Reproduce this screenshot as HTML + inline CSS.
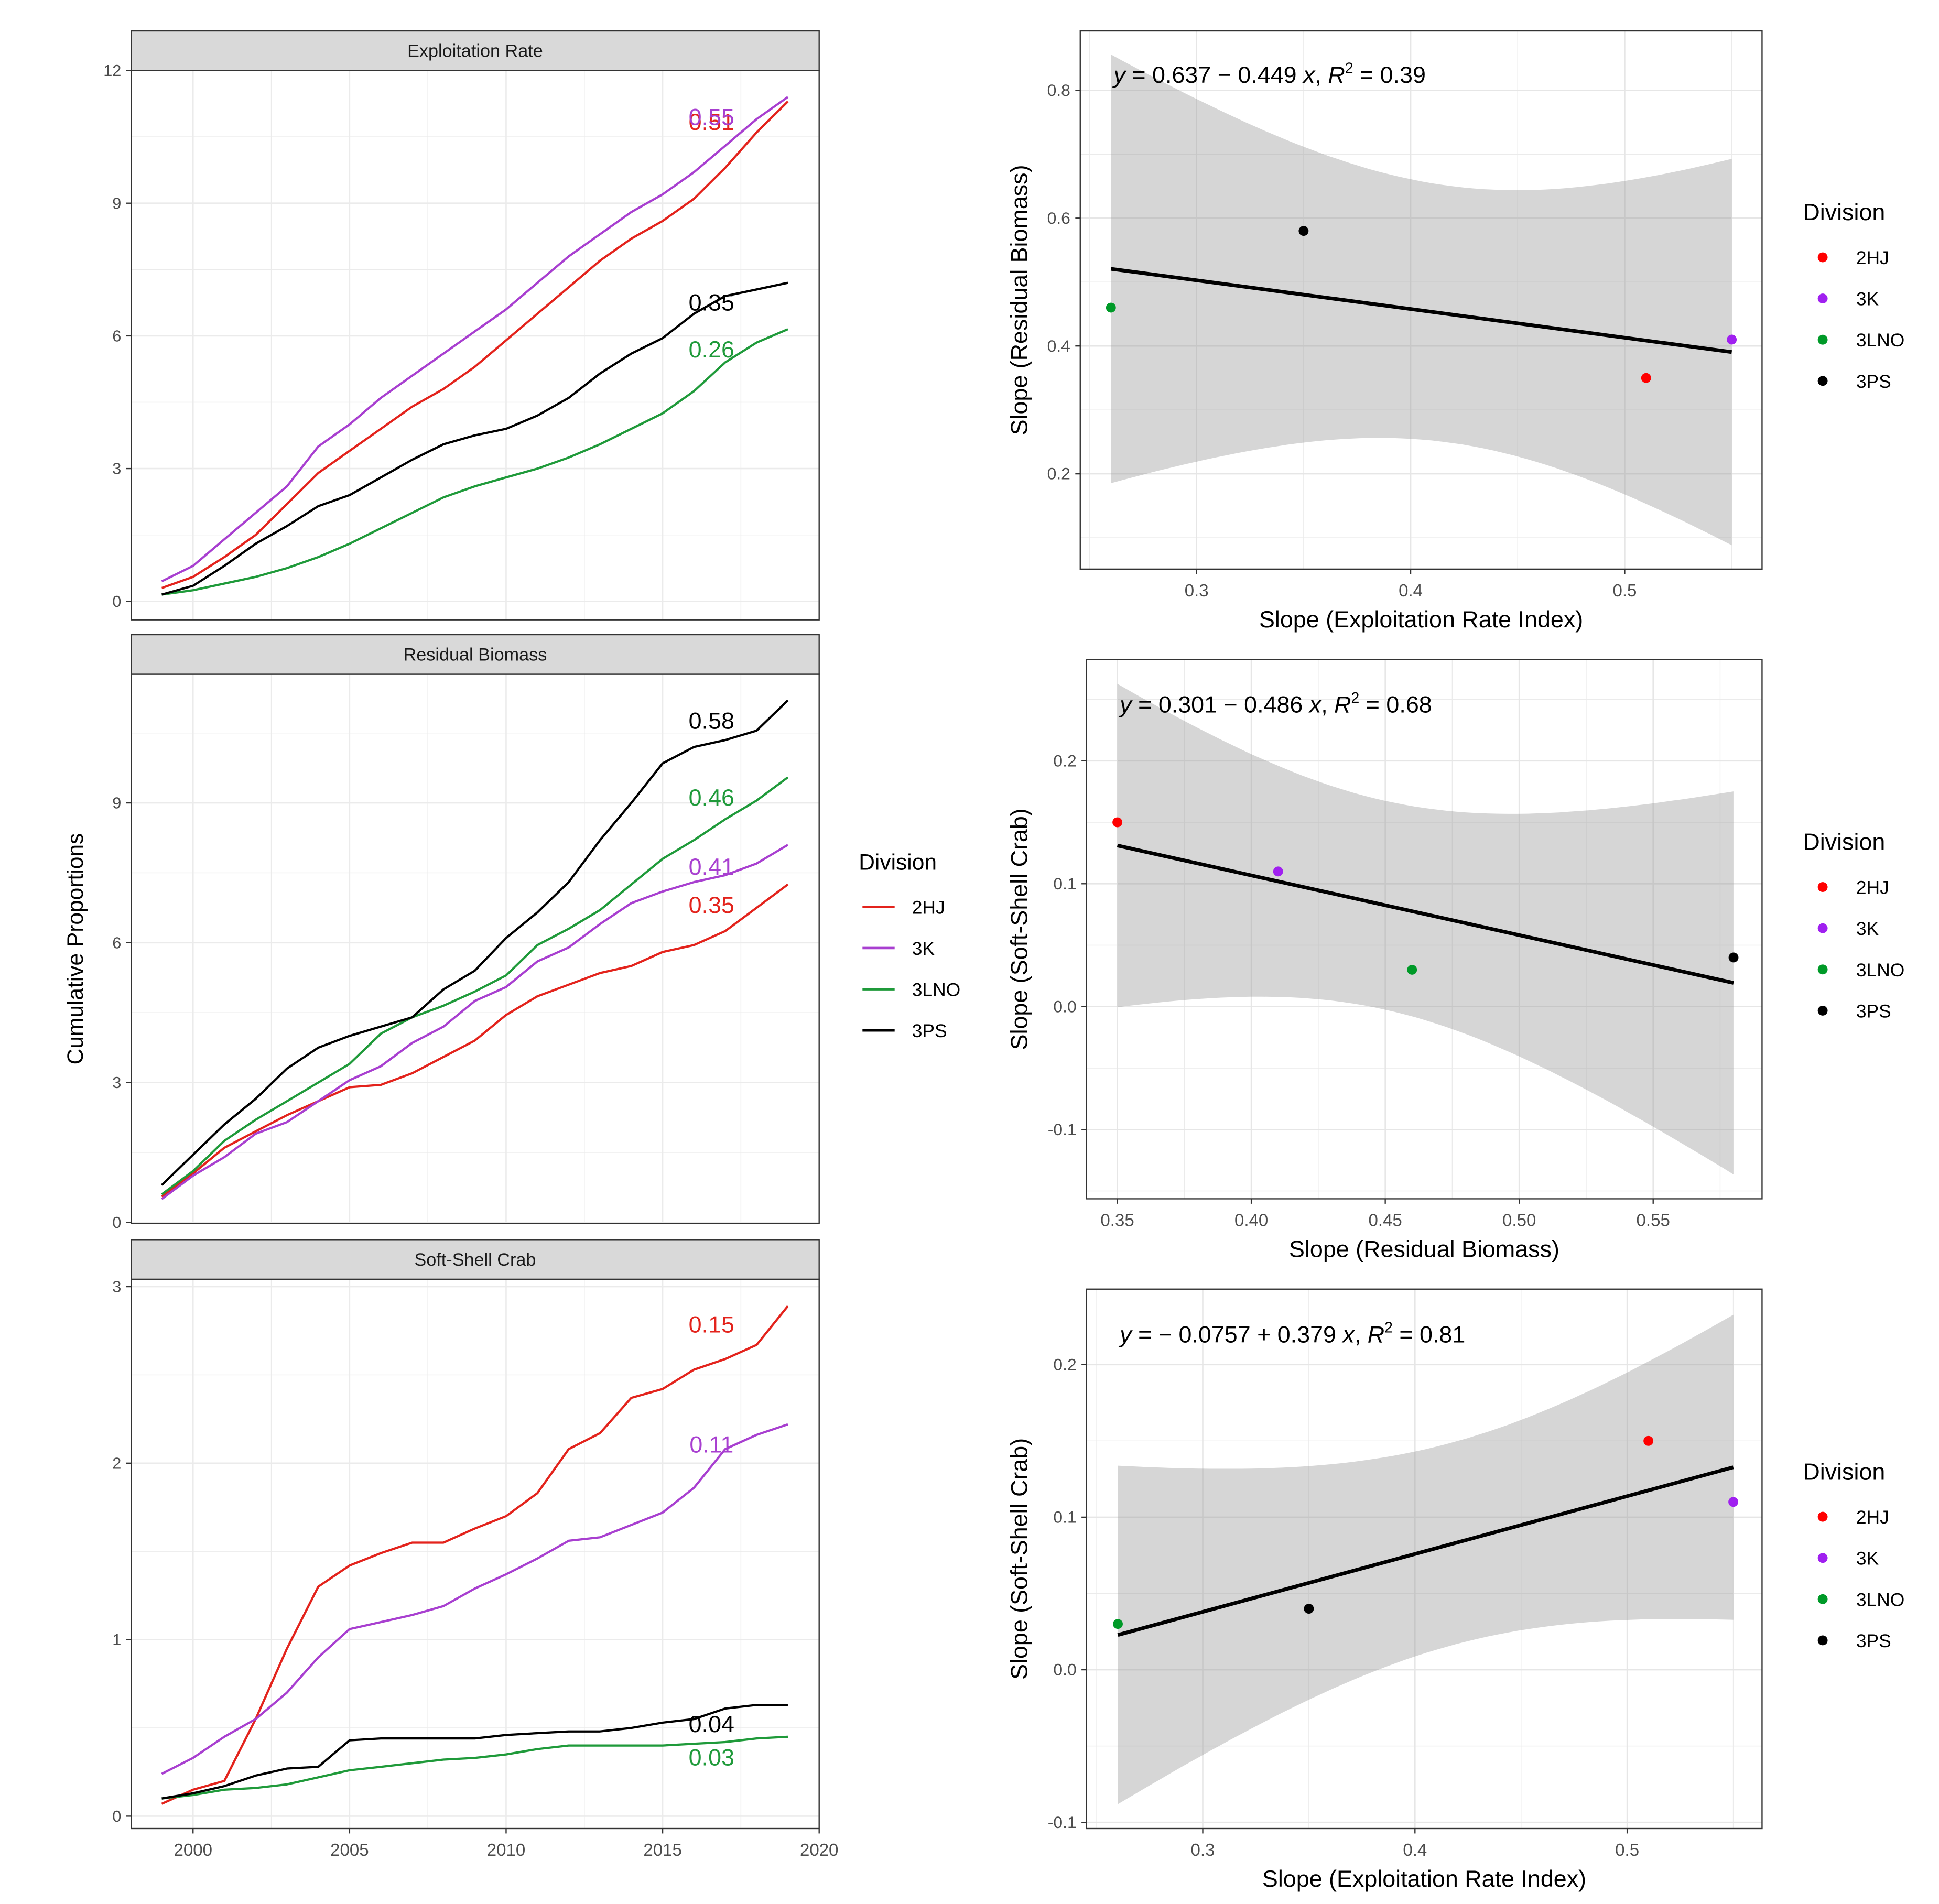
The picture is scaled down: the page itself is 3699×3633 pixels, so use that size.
<!DOCTYPE html>
<html><head><meta charset="utf-8"><style>
html,body{margin:0;padding:0;background:#fff}
svg{display:block}
text{font-family:"Liberation Sans",sans-serif}
</style></head><body>
<svg id="fig" width="3699" height="3633" viewBox="0 0 1567 1539" preserveAspectRatio="none"></svg>
<script>
// ---- data ----
const years = [1999,2000,2001,2002,2003,2004,2005,2006,2007,2008,2009,2010,2011,2012,2013,2014,2015,2016,2017,2018,2019];
const divisions = ["2HJ","3K","3LNO","3PS"];
const expl2HJ = [0.3,0.55,1.0,1.5,2.2,2.9,3.4,3.9,4.4,4.8,5.3,5.9,6.5,7.1,7.7,8.2,8.6,9.1,9.8,10.6,11.3];
const expl3K = [0.45,0.8,1.4,2.0,2.6,3.5,4.0,4.6,5.1,5.6,6.1,6.6,7.2,7.8,8.3,8.8,9.2,9.7,10.3,10.9,11.4];
const expl3LNO = [0.15,0.25,0.4,0.55,0.75,1.0,1.3,1.65,2.0,2.35,2.6,2.8,3.0,3.25,3.55,3.9,4.25,4.75,5.4,5.85,6.15];
const expl3PS = [0.15,0.35,0.8,1.3,1.7,2.15,2.4,2.8,3.2,3.55,3.75,3.9,4.2,4.6,5.15,5.6,5.95,6.5,6.9,7.05,7.2];
const resid2HJ = [0.55,1.05,1.6,1.95,2.3,2.6,2.9,2.95,3.2,3.55,3.9,4.45,4.85,5.1,5.35,5.5,5.8,5.95,6.25,6.75,7.25];
const resid3K = [0.5,1.0,1.4,1.9,2.15,2.6,3.05,3.35,3.85,4.2,4.75,5.05,5.6,5.9,6.4,6.85,7.1,7.3,7.45,7.7,8.1];
const resid3LNO = [0.6,1.1,1.75,2.2,2.6,3.0,3.4,4.05,4.4,4.65,4.95,5.3,5.95,6.3,6.7,7.25,7.8,8.2,8.65,9.05,9.55];
const resid3PS = [0.8,1.45,2.1,2.65,3.3,3.75,4.0,4.2,4.4,5.0,5.4,6.1,6.65,7.3,8.2,9.0,9.85,10.2,10.35,10.55,11.2];
const soft2HJ = [0.07,0.15,0.2,0.55,0.95,1.3,1.42,1.49,1.55,1.55,1.63,1.7,1.83,2.08,2.17,2.37,2.42,2.53,2.59,2.67,2.89];
const soft3K = [0.24,0.33,0.45,0.55,0.7,0.9,1.06,1.1,1.14,1.19,1.29,1.37,1.46,1.56,1.58,1.65,1.72,1.86,2.08,2.16,2.22];
const soft3LNO = [0.1,0.12,0.15,0.16,0.18,0.22,0.26,0.28,0.3,0.32,0.33,0.35,0.38,0.4,0.4,0.4,0.4,0.41,0.42,0.44,0.45];
const soft3PS = [0.1,0.13,0.17,0.23,0.27,0.28,0.43,0.44,0.44,0.44,0.44,0.46,0.47,0.48,0.48,0.5,0.53,0.55,0.61,0.63,0.63];
const explSlopes = ["0.51","0.55","0.26","0.35"];
const residSlopes = ["0.35","0.41","0.46","0.58"];
const softSlopes = ["0.15","0.11","0.03","0.04"];
const yearTicks = [2000,2005,2010,2015,2020];
const explTicks = [0,3,6,9,12];
const residTicks = [0,3,6,9];
const softTicks = [0,1,2,3];
// scatter data (order: 2HJ,3K,3LNO,3PS)
const explIdx = [0.51,0.55,0.26,0.35];
const residIdx = [0.35,0.41,0.46,0.58];
const softIdx = [0.15,0.11,0.03,0.04];
const scAxTicksX = [0.3,0.4,0.5];
const scBxTicksX = [0.35,0.40,0.45,0.50,0.55];
const scAyTicks = [0.2,0.4,0.6,0.8];
const scByTicks = [-0.1,0.0,0.1,0.2];

const lineCols = {"2HJ":"#e3231c","3K":"#a83fd0","3LNO":"#1f9a3a","3PS":"#000"};
const dotCols = {"2HJ":"#ff0000","3K":"#a020f0","3LNO":"#009a28","3PS":"#000"};
const NS="http://www.w3.org/2000/svg";
const svg=document.getElementById('fig');
function mk(tag,attrs,parent,txt){const e=document.createElementNS(NS,tag);for(const k in attrs)e.setAttribute(k,attrs[k]);if(txt!==undefined)e.textContent=txt;(parent||svg).appendChild(e);return e;}
function lin(d0,d1,r0,r1){return v=>r0+(v-d0)*(r1-r0)/(d1-d0);}

// ---- time series panels ----
const X = lin(2000,2020,156,662);
function tsPanel(name,title,top,y0px,unitPx,ticks,series,labels,labelYs,showX){
  const g=mk('g',{});
  
  
  const L=106,R=662,st=top,sb=top+32,pb=top+476;
  const Y=v=>y0px-v*unitPx;
  mk('rect',{x:L,y:sb,width:R-L,height:pb-sb,fill:'#fff'},g);
  for(let yr=1997.5;yr<=2020;yr+=2.5){const x=X(yr);if(x<L||x>R)continue;mk('line',{x1:x,x2:x,y1:sb,y2:pb,stroke:'#ebebeb','stroke-width':Number.isInteger(yr/5)?1.1:0.6},g);}
  const tstep=ticks[1]-ticks[0];
  for(let v=0;Y(v)>=sb-0.5;v+=tstep/2){mk('line',{x1:L,x2:R,y1:Y(v),y2:Y(v),stroke:'#ebebeb','stroke-width':(Math.abs(v/tstep-Math.round(v/tstep))<1e-6)?1.1:0.6},g);}
  ticks.forEach(t=>{const y=Y(t);mk('line',{x1:L-4,x2:L,y1:y,y2:y,stroke:'#333','stroke-width':1},g);
    const tx=mk('text',{x:L-8,y:y+4.5,'font-size':13,'text-anchor':'end',fill:'#4d4d4d'},g,String(t));
    });
  series.forEach((arr,i)=>{const d=arr.map((v,j)=>(j?'L':'M')+X(years[j]).toFixed(1)+','+Y(v).toFixed(1)).join('');
    const p=mk('path',{d:d,fill:'none',stroke:lineCols[divisions[i]],'stroke-width':1.8,'stroke-linejoin':'round'},g);
    });
  labels.forEach((l,i)=>{const t=mk('text',{x:575,y:labelYs[i]+7,'font-size':19,'text-anchor':'middle',fill:lineCols[divisions[i]]},g,l);
    });
  mk('rect',{x:L,y:sb,width:R-L,height:pb-sb,fill:'none',stroke:'#333','stroke-width':1},g);
  mk('rect',{x:L,y:st,width:R-L,height:32,fill:'#d9d9d9',stroke:'#333','stroke-width':1},g);
  const s=mk('text',{x:(L+R)/2,y:st+21,'font-size':14.5,'text-anchor':'middle',fill:'#1a1a1a'},g,title);
  
  if(showX){yearTicks.forEach(yr=>{const x=X(yr);mk('line',{x1:x,x2:x,y1:pb,y2:pb+4,stroke:'#333'},g);
    const t=mk('text',{x:x,y:pb+22,'font-size':14,'text-anchor':'middle',fill:'#4d4d4d'},g,String(yr));
    });}
}
tsPanel('exploitation-rate-panel','Exploitation Rate',25,486,(486-57)/12,explTicks,[expl2HJ,expl3K,expl3LNO,expl3PS],explSlopes,[98,94,282,244],false);
tsPanel('residual-biomass-panel','Residual Biomass',513,988,(988-649)/9,residTicks,[resid2HJ,resid3K,resid3LNO,resid3PS],residSlopes,[731,700,644,582],false);
tsPanel('soft-shell-crab-panel','Soft-Shell Crab',1002,1468,(1468-1040)/3,softTicks,[soft2HJ,soft3K,soft3LNO,soft3PS],softSlopes,[1070,1167,1420,1393],true);
const yt=mk('text',{x:0,y:0,'font-size':18,'text-anchor':'middle',fill:'#000',transform:'translate(67,767) rotate(-90)'},svg,'Cumulative Proportions');


// middle legend
const lg=mk('g',{});


mk('text',{x:694,y:703,'font-size':18,fill:'#000'},lg,'Division');
divisions.forEach((d,i)=>{const y=733+i*33.3;mk('line',{x1:697,x2:723,y1:y,y2:y,stroke:lineCols[d],'stroke-width':2},lg);
  const t=mk('text',{x:737,y:y+5.5,'font-size':15,fill:'#000'},lg,d);
  });

// ---- scatter panels ----
function regress(xs,ys){const n=xs.length,mx=xs.reduce((a,b)=>a+b)/n,my=ys.reduce((a,b)=>a+b)/n;
  let sxx=0,sxy=0,syy=0;xs.forEach((x,i)=>{sxx+=(x-mx)**2;sxy+=(x-mx)*(ys[i]-my);syy+=(ys[i]-my)**2;});
  const b=sxy/sxx,a=my-b*mx;let sse=0;xs.forEach((x,i)=>{sse+=(ys[i]-a-b*x)**2;});
  return {a,b,mx,sxx,s:Math.sqrt(sse/(n-2)),n,r2:sxy*sxy/(sxx*syy)};}
function scPanel(name,L,T,R,B,xs,ys,SX,SY,xt,ytk,xMinor,yMinor,eq,eqY,xTitle,yTitle,legTop){
  const g=mk('g',{});
  
  
  mk('rect',{x:L,y:T,width:R-L,height:B-T,fill:'#fff'},g);
  xMinor.forEach(v=>{const x=SX(v);if(x>L&&x<R)mk('line',{x1:x,x2:x,y1:T,y2:B,stroke:'#ebebeb','stroke-width':0.6},g);});
  yMinor.forEach(v=>{const y=SY(v);if(y>T&&y<B)mk('line',{x1:L,x2:R,y1:y,y2:y,stroke:'#ebebeb','stroke-width':0.6},g);});
  xt.forEach(v=>{const x=SX(v);mk('line',{x1:x,x2:x,y1:T,y2:B,stroke:'#e6e6e6','stroke-width':1.1},g);});
  ytk.forEach(v=>{const y=SY(v);mk('line',{x1:L,x2:R,y1:y,y2:y,stroke:'#e6e6e6','stroke-width':1.1},g);});
  const r=regress(xs,ys);const t=4.303;
  const x0=Math.min(...xs),x1=Math.max(...xs);const N=60;let up=[],lo=[];
  for(let i=0;i<=N;i++){const x=x0+(x1-x0)*i/N;const f=r.a+r.b*x;const se=r.s*Math.sqrt(1/r.n+(x-r.mx)**2/r.sxx);
    up.push(SX(x).toFixed(1)+','+SY(f+t*se).toFixed(1));lo.unshift(SX(x).toFixed(1)+','+SY(f-t*se).toFixed(1));}
  const band=mk('polygon',{points:up.concat(lo).join(' '),fill:'#999','fill-opacity':0.4},g);
  
  const fl=mk('line',{x1:SX(x0),y1:SY(r.a+r.b*x0),x2:SX(x1),y2:SY(r.a+r.b*x1),stroke:'#000','stroke-width':3},g);
  
  xs.forEach((x,i)=>{const c=mk('circle',{cx:SX(x),cy:SY(ys[i]),r:4,fill:dotCols[divisions[i]]},g);
    });
  mk('rect',{x:L,y:T,width:R-L,height:B-T,fill:'none',stroke:'#333','stroke-width':1},g);
  xt.forEach(v=>{const x=SX(v);mk('line',{x1:x,x2:x,y1:B,y2:B+4,stroke:'#333'},g);
    const tx=mk('text',{x:x,y:B+22,'font-size':14,'text-anchor':'middle',fill:'#4d4d4d'},g,v.toFixed(name==='scatter-biomass-vs-softshell'?2:1));
    });
  ytk.forEach(v=>{const y=SY(v);mk('line',{x1:L-4,x2:L,y1:y,y2:y,stroke:'#333'},g);
    const tx=mk('text',{x:L-8,y:y+4.5,'font-size':13.5,'text-anchor':'end',fill:'#4d4d4d'},g,v.toFixed(1));
    });
  const e=mk('text',{x:L+27,y:eqY,'font-size':19,fill:'#000'},g);
  
  e.innerHTML=eq;
  const xtl=mk('text',{x:(L+R)/2,y:B+47,'font-size':19,'text-anchor':'middle',fill:'#000'},g,xTitle);
  
  const ytl=mk('text',{x:0,y:0,'font-size':19,'text-anchor':'middle',fill:'#000',transform:`translate(830,${(T+B)/2}) rotate(-90)`},g,yTitle);
  
  const lgd=mk('g',{},g);
  
  
  mk('text',{x:1457,y:legTop+7,'font-size':19,fill:'#000'},lgd,'Division');
  divisions.forEach((d,i)=>{const y=legTop+37+i*33.3;mk('circle',{cx:1473,cy:y,r:4,fill:dotCols[d]},lgd);
    const tx=mk('text',{x:1500,y:y+5.5,'font-size':15,fill:'#000'},lgd,d);
    });
}
const rng=(a,b,s)=>{const o=[];for(let v=a;v<=b+1e-9;v+=s)o.push(+v.toFixed(4));return o;};
scPanel('scatter-exploitation-vs-biomass',873,25,1424,460,explIdx,residIdx,lin(0.3,0.5,967,1313),lin(0.8,0.2,73,383),
  scAxTicksX,scAyTicks,rng(0.25,0.55,0.1),rng(0.1,0.9,0.2),
  '<tspan font-style="italic">y</tspan> = 0.637 − 0.449 <tspan font-style="italic">x</tspan>, <tspan font-style="italic">R</tspan><tspan dy="-8" font-size="12">2</tspan><tspan dy="8"> = 0.39</tspan>',67,
  'Slope (Exploitation Rate Index)','Slope (Residual Biomass)',171);
scPanel('scatter-biomass-vs-softshell',878,533,1424,969,residIdx,softIdx,lin(0.35,0.55,903,1336),lin(0.2,-0.1,615,913),
  scBxTicksX,scByTicks,rng(0.375,0.575,0.05),rng(-0.15,0.25,0.1),
  '<tspan font-style="italic">y</tspan> = 0.301 − 0.486 <tspan font-style="italic">x</tspan>, <tspan font-style="italic">R</tspan><tspan dy="-8" font-size="12">2</tspan><tspan dy="8"> = 0.68</tspan>',576,
  'Slope (Residual Biomass)','Slope (Soft-Shell Crab)',680);
scPanel('scatter-exploitation-vs-softshell',878,1042,1424,1478,explIdx,softIdx,lin(0.3,0.5,972,1315),lin(0.2,-0.1,1103,1473),
  scAxTicksX,scByTicks,rng(0.25,0.55,0.1),rng(-0.15,0.25,0.1),
  '<tspan font-style="italic">y</tspan> = − 0.0757 + 0.379 <tspan font-style="italic">x</tspan>, <tspan font-style="italic">R</tspan><tspan dy="-8" font-size="12">2</tspan><tspan dy="8"> = 0.81</tspan>',1085,
  'Slope (Exploitation Rate Index)','Slope (Soft-Shell Crab)',1189);
</script>
</body></html>
